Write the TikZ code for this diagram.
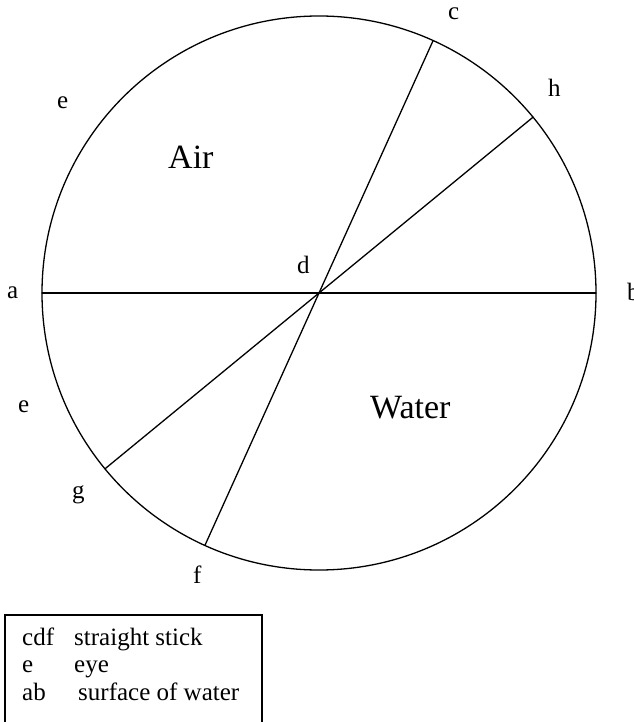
\documentclass[tikz,border=0pt]{standalone}
\usepackage{fontspec}
\setmainfont{Liberation Serif}
\begin{document}
\begin{tikzpicture}[x=1pt,y=-1pt,
  lbl/.style={anchor=base west,inner sep=0pt,font=\fontsize{25}{28}\selectfont},
  big/.style={anchor=base west,inner sep=0pt,font=\fontsize{34}{38}\selectfont},
  ln/.style={line width=1.3pt,line cap=round}]
\useasboundingbox (0,0) rectangle (633,722);
\fill[white] (0,0) rectangle (633,722);
% circle and points
\coordinate (O) at (319,293);
\coordinate (A) at (42,293);
\coordinate (B) at (596,293);
\coordinate (C) at (433.1,40.6);
\coordinate (F) at (204.9,545.4);
\coordinate (H) at (533,117.2);
\coordinate (G) at (105,468.8);
\draw[ln] (O) circle[radius=277];
\draw[ln] (A) -- (B);
\draw[ln] (C) -- (F);
\draw[ln] (H) -- (G);
% labels
\node[lbl] (lc) at (448,20) {c};
\node[lbl] (lh) at (548,97) {h};
\node[lbl] (le1) at (57,109) {e};
\node[big] (air) at (168,168) {Air};
\node[lbl] (la) at (7,298) {a};
\node[lbl] (lb) at (627,300) {b};
\node[lbl] (ld) at (297,273) {d};
\node[big] (water) at (370,418) {Water};
\node[lbl] (le2) at (18,412) {e};
\node[lbl] (lg) at (72,498) {g};
\node[lbl] (lf) at (193,583) {f};
% legend
\draw[line width=1.1pt] (5,615) rectangle (262,728);
\node[lbl] (k1) at (22,645) {cdf};
\node[lbl] (v1) at (74,645) {straight stick};
\node[lbl] (k2) at (22,672) {e};
\node[lbl] (v2) at (74,672) {eye};
\node[lbl] (k3) at (22,700) {ab};
\node[lbl] (v3) at (78,700) {surface of water};
\end{tikzpicture}
\end{document}
